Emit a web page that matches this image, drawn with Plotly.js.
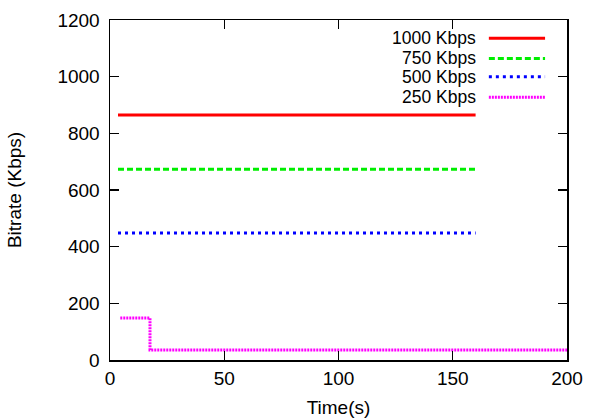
<!DOCTYPE html>
<html><head><meta charset="utf-8">
<script src="https://cdn.plot.ly/plotly-3.0.1.min.js"></script>
<style>html,body{margin:0;padding:0;background:#fff}#c{width:589px;height:420px}</style>
</head><body><div id="c"></div>
<script>
// Data
const seriesNames = ["1000 Kbps", "750 Kbps", "500 Kbps", "250 Kbps"];
const time1000 = [3.5, 160];
const rate1000 = [865, 865];
const time750 = [3.5, 160];
const rate750 = [673, 673];
const time500 = [3.5, 160];
const rate500 = [448, 448];
const time250 = [4.5, 17.5, 200];
const rate250 = [148, 35, 35];
const xTicks = [0, 50, 100, 150, 200];
const yTicks = [0, 200, 400, 600, 800, 1000, 1200];

const colors = ["#ff0000", "#00ee00", "#0000ff", "#ff00ff"];
const dashes = ["solid", "6px,3px", "3px,4px", "2px,1px"];
const xs = [time1000, time750, time500, time250];
const ys = [rate1000, rate750, rate500, rate250];
const FONT = "Liberation Sans, Arial, Helvetica, sans-serif";

const traces = seriesNames.map((n, i) => ({
  x: xs[i], y: ys[i], name: n, mode: "lines", type: "scatter",
  line: {color: colors[i], width: 3, dash: dashes[i], shape: i === 3 ? "hv" : "linear"},
  showlegend: false, hoverinfo: "skip"
}));

// gnuplot-style legend: right-aligned text then line sample
const rowsY = [0.946, 0.887, 0.833, 0.773];
const shapes = [];
const annotations = [];
seriesNames.forEach((n, i) => {
  shapes.push({type: "line", xref: "paper", yref: "paper", x0: 0.829, x1: 0.952, y0: rowsY[i], y1: rowsY[i],
    line: {color: colors[i], width: 3, dash: dashes[i]}});
  annotations.push({xref: "paper", yref: "paper", x: 0.806, y: rowsY[i], xanchor: "right", yanchor: "middle",
    text: n, showarrow: false, font: {family: FONT, size: 17.5, color: "#000"}});
});

const axisCommon = {
  showgrid: false, zeroline: false, showline: true, linecolor: "#000", linewidth: 1.5,
  mirror: "ticks", ticks: "inside", ticklen: 9, tickwidth: 1.2, tickcolor: "#000",
  tickfont: {family: FONT, size: 19, color: "#000"}
};

const layout = {
  width: 589, height: 420,
  margin: {l: 110, r: 22, t: 20, b: 60},
  paper_bgcolor: "#fff", plot_bgcolor: "#fff",
  xaxis: Object.assign({}, axisCommon, {range: [0, 200], tickvals: xTicks, ticklabelstandoff: 1,
    title: {text: "Time(s)", font: {family: FONT, size: 19, color: "#000"}, standoff: 12}}),
  yaxis: Object.assign({}, axisCommon, {range: [0, 1200], tickvals: yTicks, ticklabelstandoff: 5,
    title: {text: "Bitrate (Kbps)", font: {family: FONT, size: 19, color: "#000"}, standoff: 31}}),
  shapes: shapes, annotations: annotations, showlegend: false
};

Plotly.newPlot("c", traces, layout, {staticPlot: true});
</script></body></html>
